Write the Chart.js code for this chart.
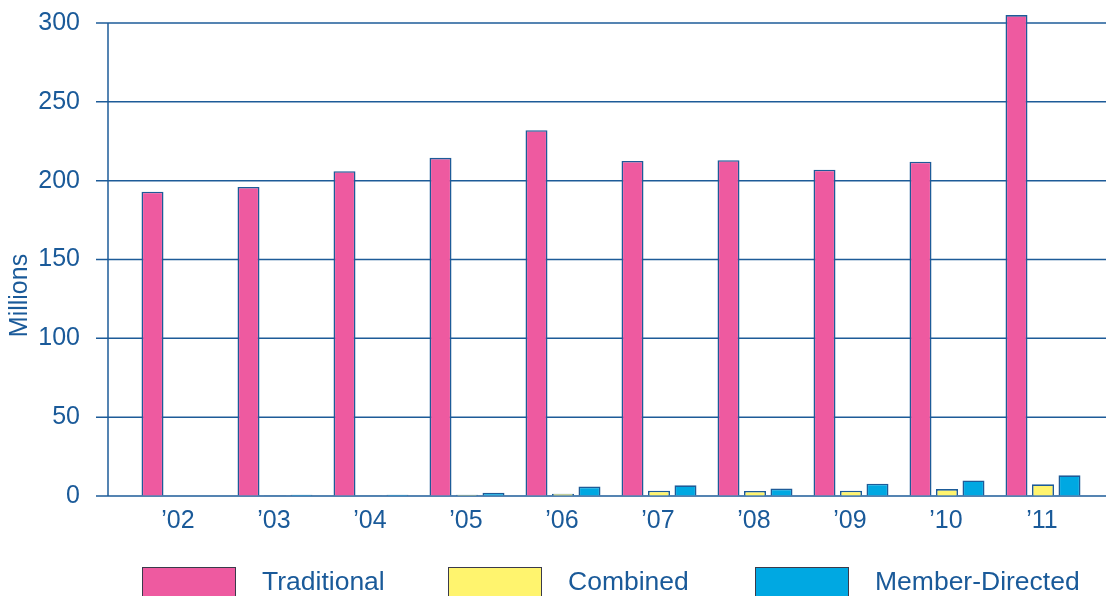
<!DOCTYPE html>
<html><head><meta charset="utf-8">
<script src="https://cdn.jsdelivr.net/npm/chart.js@4/dist/chart.umd.min.js"></script>
<style>html,body{margin:0;padding:0;background:#fff}#wrap{width:1106px;height:596px}</style>
</head><body><div id="wrap"><canvas id="c" width="1106" height="596"></canvas></div>
<script>
const categories = ["\u201902","\u201903","\u201904","\u201905","\u201906","\u201907","\u201908","\u201909","\u201910","\u201911"];
const seriesNames = ["Traditional","Combined","Member-Directed"];
const traditional = [193, 196, 206, 214.5, 232, 212.5, 213, 207, 212, 305];
const combined = [0, 0.4, 0.4, 0.8, 1.5, 3.4, 3.2, 3.4, 4.4, 7.4];
const memberDirected = [0, 0.8, 0.8, 2, 6, 6.8, 4.7, 7.8, 9.9, 13.1];
const yTicks = [0, 50, 100, 150, 200, 250, 300];
const yTitle = 'Millions';

const AX = '#1d5b98';
const TXT = '#1a5a99';
const colors = ['#ee5aa0', '#fff46e', '#00a8e2'];

Chart.defaults.font.family = '"Liberation Sans", Arial, sans-serif';

const gridPlugin = {
  id: 'customGrid',
  beforeDatasetsDraw(chart) {
    const ctx = chart.ctx, y = chart.scales.y;
    ctx.save();
    ctx.strokeStyle = AX;
    ctx.lineWidth = 1.5;
    yTicks.forEach(v => {
      const py = y.getPixelForValue(v);
      ctx.beginPath(); ctx.moveTo(96, py); ctx.lineTo(chart.width, py); ctx.stroke();
    });
    ctx.beginPath();
    ctx.moveTo(108, y.getPixelForValue(yTicks[yTicks.length-1]));
    ctx.lineTo(108, y.getPixelForValue(0));
    ctx.stroke();
    // axis title
    ctx.translate(20, 295.5);
    ctx.rotate(-Math.PI / 2);
    ctx.fillStyle = TXT;
    ctx.font = '25px "Liberation Sans", Arial, sans-serif';
    ctx.textAlign = 'center';
    ctx.textBaseline = 'middle';
    ctx.fillText(yTitle, 0, 0);
    ctx.restore();
  }
};

const legendPlugin = {
  id: 'customLegend',
  afterDraw(chart) {
    const ctx = chart.ctx;
    const xs = [142, 448, 755];
    ctx.save();
    chart.data.datasets.forEach((ds, i) => {
      const x = xs[i];
      ctx.fillStyle = ds.backgroundColor;
      ctx.fillRect(x, 567, 93, 40);
      ctx.strokeStyle = '#3a3a4a';
      ctx.lineWidth = 1;
      ctx.strokeRect(x + 0.5, 567.5, 93, 40);
      ctx.fillStyle = TXT;
      ctx.font = '26.5px "Liberation Sans", Arial, sans-serif';
      ctx.textBaseline = 'middle';
      ctx.textAlign = 'left';
      ctx.fillText(ds.label, x + 120, 583);
    });
    ctx.restore();
  }
};

const mk = (label, data, color) => ({
  label, data, backgroundColor: color, borderColor: AX, borderWidth: 1.6,
  categoryPercentage: 0.828, barPercentage: 0.83, clip: false
});

new Chart(document.getElementById('c'), {
  type: 'bar',
  data: {
    labels: categories,
    datasets: [
      mk(seriesNames[0], traditional, colors[0]),
      mk(seriesNames[1], combined, colors[1]),
      mk(seriesNames[2], memberDirected, colors[2])
    ]
  },
  options: {
    responsive: false,
    devicePixelRatio: 1,
    animation: false,
    layout: { padding: { top: 23, right: 15, left: 0, bottom: 0 } },
    plugins: { legend: { display: false }, tooltip: { enabled: false } },
    scales: {
      x: {
        grid: { display: false, drawTicks: false },
        border: { display: false },
        ticks: { color: TXT, font: { size: 25 }, padding: 10, maxRotation: 0, labelOffset: -1 },
        afterFit(s) { s.height = 100; }
      },
      y: {
        min: 0, max: 300,
        afterBuildTicks(s) { s.ticks = yTicks.map(v => ({ value: v })); },
        grid: { display: true, drawTicks: false, drawOnChartArea: false, color: 'rgba(0,0,0,0)' },
        border: { display: false },
        ticks: { color: TXT, font: { size: 25 }, padding: 51 },
        title: { display: false },
        afterFit(s) { s.width = 131; s.paddingTop = 0; s.paddingBottom = 0; }
      }
    }
  },
  plugins: [gridPlugin, legendPlugin]
});
</script></body></html>
